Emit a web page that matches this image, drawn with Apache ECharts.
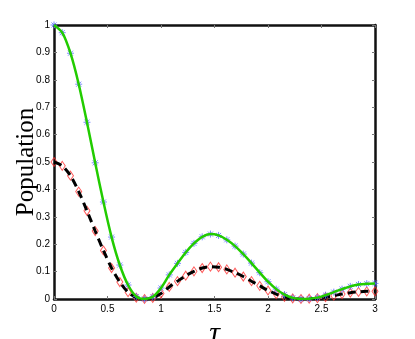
<!DOCTYPE html>
<html>
<head>
<meta charset="utf-8">
<script src="https://cdn.jsdelivr.net/npm/echarts@6/dist/echarts.min.js"></script>
<style>
  html, body { margin: 0; padding: 0; background: #fff; }
  #chart { width: 415px; height: 339px; }
</style>
</head>
<body>
<div id="chart"></div>
<script>
// sample times (x values of the markers)
const tau = [
  0.000, 0.077, 0.154, 0.231, 0.308, 0.385, 0.462, 0.538, 0.615, 0.692,
  0.769, 0.846, 0.923, 1.000, 1.077, 1.154, 1.231, 1.308, 1.385, 1.462,
  1.538, 1.615, 1.692, 1.769, 1.846, 1.923, 2.000, 2.077, 2.154, 2.231,
  2.308, 2.385, 2.462, 2.538, 2.615, 2.692, 2.769, 2.846, 2.923, 3.000
]

// green solid curve / blue stars
const popUpper = [
  1.000, 0.972, 0.897, 0.784, 0.645, 0.497, 0.354, 0.226, 0.124, 0.051,
  0.009, 0.000, 0.008, 0.040, 0.088, 0.130, 0.170, 0.203, 0.227, 0.237,
  0.232, 0.216, 0.193, 0.164, 0.131, 0.096, 0.063, 0.036, 0.016, 0.004,
  0.000, 0.001, 0.005, 0.014, 0.025, 0.036, 0.046, 0.053, 0.056, 0.057
]

// black dashed curve / red diamonds
const popLower = [
  0.500, 0.486, 0.450, 0.392, 0.322, 0.248, 0.177, 0.113, 0.062, 0.025,
  0.005, 0.000, 0.004, 0.020, 0.044, 0.065, 0.085, 0.101, 0.113, 0.118,
  0.116, 0.108, 0.096, 0.082, 0.065, 0.048, 0.031, 0.018, 0.008, 0.002,
  0.000, 0.001, 0.003, 0.007, 0.012, 0.018, 0.023, 0.026, 0.028, 0.028
]

const xTicks = ['0', '0.5', '1', '1.5', '2', '2.5', '3']
const yTicks = ['0', '0.1', '0.2', '0.3', '0.4', '0.5', '0.6', '0.7', '0.8', '0.9', '1']

const upperPts = tau.map((t, i) => [t, popUpper[i]])
const lowerPts = tau.map((t, i) => [t, popLower[i]])

const starPath = 'path://M0,-5L0,5M-5,0L5,0M-3.6,-3.6L3.6,3.6M-3.6,3.6L3.6,-3.6'
const labelFont = { fontFamily: 'Liberation Sans', fontSize: 10, color: '#000' }

function fmtTick(list) {
  return (v) => {
    const s = String(Math.round(v * 10) / 10)
    return list.includes(s) ? s : ''
  }
}

const chart = echarts.init(document.getElementById('chart'))

const frameAxis = {
  axisLine: { show: true, onZero: false, lineStyle: { color: '#111', width: 2.5 } },
  axisTick: { show: true, inside: true, length: 3, lineStyle: { color: '#777', width: 1 } },
  splitLine: { show: false },
}

chart.setOption({
  animation: false,
  grid: { left: 54, right: 40, top: 25, bottom: 40, outerBoundsMode: 'none', containLabel: false },
  xAxis: [
    {
      type: 'value', min: 0, max: 3, interval: 0.5, position: 'bottom',
      ...frameAxis,
      axisLabel: { ...labelFont, margin: 5, formatter: fmtTick(xTicks) },
      name: 'τ', nameLocation: 'middle', nameGap: 11,
      nameTextStyle: { fontFamily: 'Liberation Serif', fontStyle: 'italic', fontSize: 30, color: '#000' },
    },
    {
      type: 'value', min: 0, max: 3, interval: 0.5, position: 'top',
      ...frameAxis,
      axisLabel: { show: false },
    },
  ],
  yAxis: [
    {
      type: 'value', min: 0, max: 1, interval: 0.1, position: 'left',
      ...frameAxis,
      axisLabel: { ...labelFont, margin: 4, formatter: fmtTick(yTicks) },
      name: 'Population', nameLocation: 'middle', nameGap: 15, nameRotate: 90,
      nameMoveOverlap: false,
      nameTextStyle: { fontFamily: 'Liberation Serif', fontSize: 25, color: '#000' },
    },
    {
      type: 'value', min: 0, max: 1, interval: 0.1, position: 'right',
      ...frameAxis,
      axisLabel: { show: false },
    },
  ],
  series: [
    {
      type: 'scatter', data: lowerPts, symbol: 'diamond', symbolSize: [6, 9],
      itemStyle: { color: 'rgba(255,255,255,0)', borderColor: '#ff3030', borderWidth: 1 },
      z: 2,
    },
    {
      type: 'line', data: lowerPts, showSymbol: false, smooth: 0.3,
      lineStyle: { color: '#000', width: 3, type: [8, 5] },
      z: 3,
    },
    {
      type: 'scatter', data: upperPts, symbol: starPath, symbolSize: 7,
      itemStyle: { color: 'rgba(0,0,0,0)', borderColor: '#5a6cff', borderWidth: 1 },
      z: 4,
    },
    {
      type: 'line', data: upperPts, showSymbol: false, smooth: 0.3,
      lineStyle: { color: '#22cc00', width: 2.5 },
      z: 5,
    },
  ],
})
</script>
</body>
</html>
